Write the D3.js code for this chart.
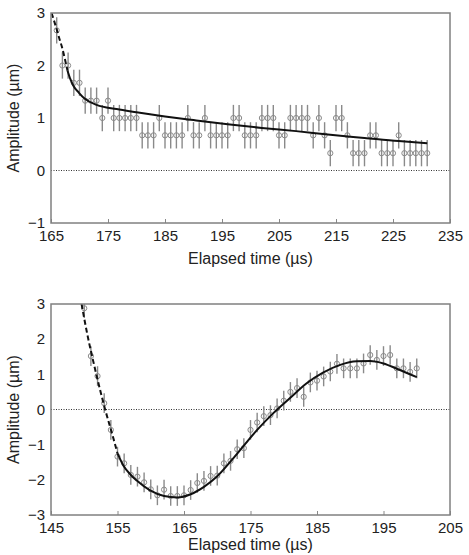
<!DOCTYPE html>
<html>
<head>
<meta charset="utf-8">
<script src="https://cdn.jsdelivr.net/npm/d3@7"></script>
<style>
  body { margin: 0; background: #fff; }
  text { font-family: "Liberation Sans", Arial, sans-serif; fill: #222; }
</style>
</head>
<body>
<svg id="chart" width="469" height="555"></svg>
<script>
// ---- data: upper panel ----
var topTime = [166,167,168,169,170,171,172,173,174,175,
               176,177,178,179,180,181,182,183,184,185,
               186,187,188,189,190,191,192,193,194,195,
               196,197,198,199,200,201,202,203,204,205,
               206,207,208,209,210,211,212,213,214,215,
               216,217,218,219,220,221,222,223,224,225,
               226,227,228,229,230,231];
var topAmp = [2.67,2,2,1.67,1.67,1.33,1.33,1.33,1,1.33,
              1,1,1,1,1,0.67,0.67,0.67,1,0.67,
              0.67,0.67,0.67,1,0.67,0.67,1,0.67,0.67,0.67,
              0.67,1,1,0.67,0.67,0.67,1,1,1,0.67,
              0.67,1,1,1,1,0.67,1,0.67,0.33,1,
              1,0.67,0.33,0.33,0.33,0.67,0.67,0.33,0.33,0.33,
              0.67,0.33,0.33,0.33,0.33,0.33];
var topErr = 0.25;
var topFitDashed = [[165.1,3.0],[165.6,2.83],[166.0,2.69],[166.5,2.5],[166.9,2.36],[167.4,2.14],[167.9,1.9]];
var topFitSolid = [[167.9,1.9],[168.4,1.74],[168.9,1.62],[169.9,1.48],[171,1.36],[173,1.25],[176.5,1.17],
                   [180,1.11],[185,1.03],[190,0.96],[196,0.88],[202,0.81],[208,0.75],[214,0.68],
                   [220,0.62],[226,0.56],[231,0.52]];
var topXTicks = [165,175,185,195,205,215,225,235];
var topYTicks = [-1,0,1,2,3];

// ---- data: lower panel ----
var botTime = [150,151,152,153,154,155,156,157,158,159,
               160,161,162,163,164,165,166,167,168,169,
               170,171,172,173,174,175,176,177,178,179,
               180,181,182,183,184,185,186,187,188,189,
               190,191,192,193,194,195,196,197,198,199,200];
var botAmp = [2.88,1.52,0.95,0.18,-0.58,-1.34,-1.53,-1.86,-1.91,-2.07,
              -2.27,-2.44,-2.28,-2.46,-2.46,-2.44,-2.29,-2.09,-2.03,-1.89,
              -1.88,-1.53,-1.46,-1.13,-1.1,-0.58,-0.37,-0.19,-0.16,0.03,
              0.25,0.5,0.61,0.36,0.77,0.82,0.94,1.08,1.3,1.17,
              1.17,1.17,1.31,1.55,1.41,1.52,1.55,1.17,1.17,1.07,1.17];
var botErr = 0.28;
var botFitDashed = [[149.6,3.0],[150.5,2.1],[151.2,1.5],[151.9,0.93],[152.5,0.47],[153.1,0.03],
                    [153.9,-0.5],[154.5,-0.9],[155,-1.25]];
var botFitSolid = [[155,-1.25],[155.9,-1.6],[156.9,-1.84],[157.9,-2.02],[159.9,-2.3],[162,-2.46],
                   [164,-2.5],[166,-2.41],[168,-2.2],[170,-1.9],[172.4,-1.39],[175.9,-0.6],
                   [178.4,-0.11],[180.9,0.32],[183.4,0.74],[185.9,1.05],[188.5,1.27],[191,1.37],
                   [193,1.38],[195,1.31],[197,1.16],[200,0.92]];
var botXTicks = [145,155,165,175,185,195,205];
var botYTicks = [-3,-2,-1,0,1,2,3];

var xTitle = 'Elapsed time (\u00b5s)';
var yTitle = 'Amplitude (\u00b5m)';

var svg = d3.select('#chart');

function drawPanel(p) {
    var
        x = d3.scaleLinear().domain([p.xTicks[0], p.xTicks[p.xTicks.length - 1]]).range([p.left, p.right]),
        y = d3.scaleLinear().domain([p.yTicks[0], p.yTicks[p.yTicks.length - 1]]).range([p.bottom, p.top]),
        g = svg.append('g');

    g.append('defs').append('clipPath').attr('id', p.id)
        .append('rect')
        .attr('x', p.left).attr('y', p.top)
        .attr('width', p.right - p.left).attr('height', p.bottom - p.top);

    // zero line
    g.append('line')
        .attr('x1', p.left).attr('x2', p.right)
        .attr('y1', y(0)).attr('y2', y(0))
        .attr('stroke', '#333').attr('stroke-width', 1)
        .attr('stroke-dasharray', '1,1.5');

    var plot = g.append('g').attr('clip-path', 'url(#' + p.id + ')');

    var pts = p.time.map(function(t, i) { return { t: t, a: p.amp[i] }; });

    plot.selectAll('line.err')
        .data(pts)
        .enter()
        .append('line')
        .attr('class', 'err')
        .attr('x1', function(d) { return x(d.t); })
        .attr('x2', function(d) { return x(d.t); })
        .attr('y1', function(d) { return y(d.a - p.err); })
        .attr('y2', function(d) { return y(d.a + p.err); })
        .attr('stroke', '#8a8a8a')
        .attr('stroke-width', 1.4);

    plot.selectAll('circle')
        .data(pts)
        .enter()
        .append('circle')
        .attr('cx', function(d) { return x(d.t); })
        .attr('cy', function(d) { return y(d.a); })
        .attr('r', 2.6)
        .attr('fill', 'none')
        .attr('stroke', '#8a8a8a')
        .attr('stroke-width', 1);

    var line = d3.line()
        .x(function(d) { return x(d[0]); })
        .y(function(d) { return y(d[1]); })
        .curve(d3.curveMonotoneX);

    plot.append('path')
        .attr('d', line(p.fitDashed))
        .attr('fill', 'none')
        .attr('stroke', '#111')
        .attr('stroke-width', 2)
        .attr('stroke-dasharray', '5,3');

    plot.append('path')
        .attr('d', line(p.fitSolid))
        .attr('fill', 'none')
        .attr('stroke', '#111')
        .attr('stroke-width', 2);

    // axes
    var xAxis = g.append('g')
        .attr('transform', 'translate(0,' + p.bottom + ')')
        .call(d3.axisBottom(x).tickValues(p.xTicks).tickFormat(d3.format('d'))
            .tickSizeInner(-4).tickSizeOuter(0).tickPadding(7));
    var yAxis = g.append('g')
        .attr('transform', 'translate(' + p.left + ',0)')
        .call(d3.axisLeft(y).tickValues(p.yTicks).tickFormat(d3.format('d'))
            .tickSizeInner(0).tickSizeOuter(0).tickPadding(6));

    [xAxis, yAxis].forEach(function(a) {
        a.select('.domain').remove();
        a.selectAll('line').attr('stroke', '#888');
        a.selectAll('text').attr('font-size', 15).attr('fill', '#222')
            .style('font-family', '"Liberation Sans", Arial, sans-serif');
    });

    // frame
    g.append('rect')
        .attr('x', p.left).attr('y', p.top)
        .attr('width', p.right - p.left).attr('height', p.bottom - p.top)
        .attr('fill', 'none')
        .attr('stroke', '#808080')
        .attr('stroke-width', 1.5);

    g.append('text')
        .attr('x', (p.left + p.right) / 2)
        .attr('y', p.titleY)
        .attr('text-anchor', 'middle')
        .attr('font-size', 16)
        .text(xTitle);

    g.append('text')
        .attr('transform', 'translate(19,' + (p.top + p.bottom) / 2 + ') rotate(-90)')
        .attr('text-anchor', 'middle')
        .attr('font-size', 16)
        .text(yTitle);
}

drawPanel({
    id: 'clipTop', left: 51, right: 450, top: 13, bottom: 223, titleY: 264,
    time: topTime, amp: topAmp, err: topErr,
    fitDashed: topFitDashed, fitSolid: topFitSolid,
    xTicks: topXTicks, yTicks: topYTicks
});

drawPanel({
    id: 'clipBot', left: 51, right: 450, top: 304, bottom: 515, titleY: 550,
    time: botTime, amp: botAmp, err: botErr,
    fitDashed: botFitDashed, fitSolid: botFitSolid,
    xTicks: botXTicks, yTicks: botYTicks
});
</script>
</body>
</html>
